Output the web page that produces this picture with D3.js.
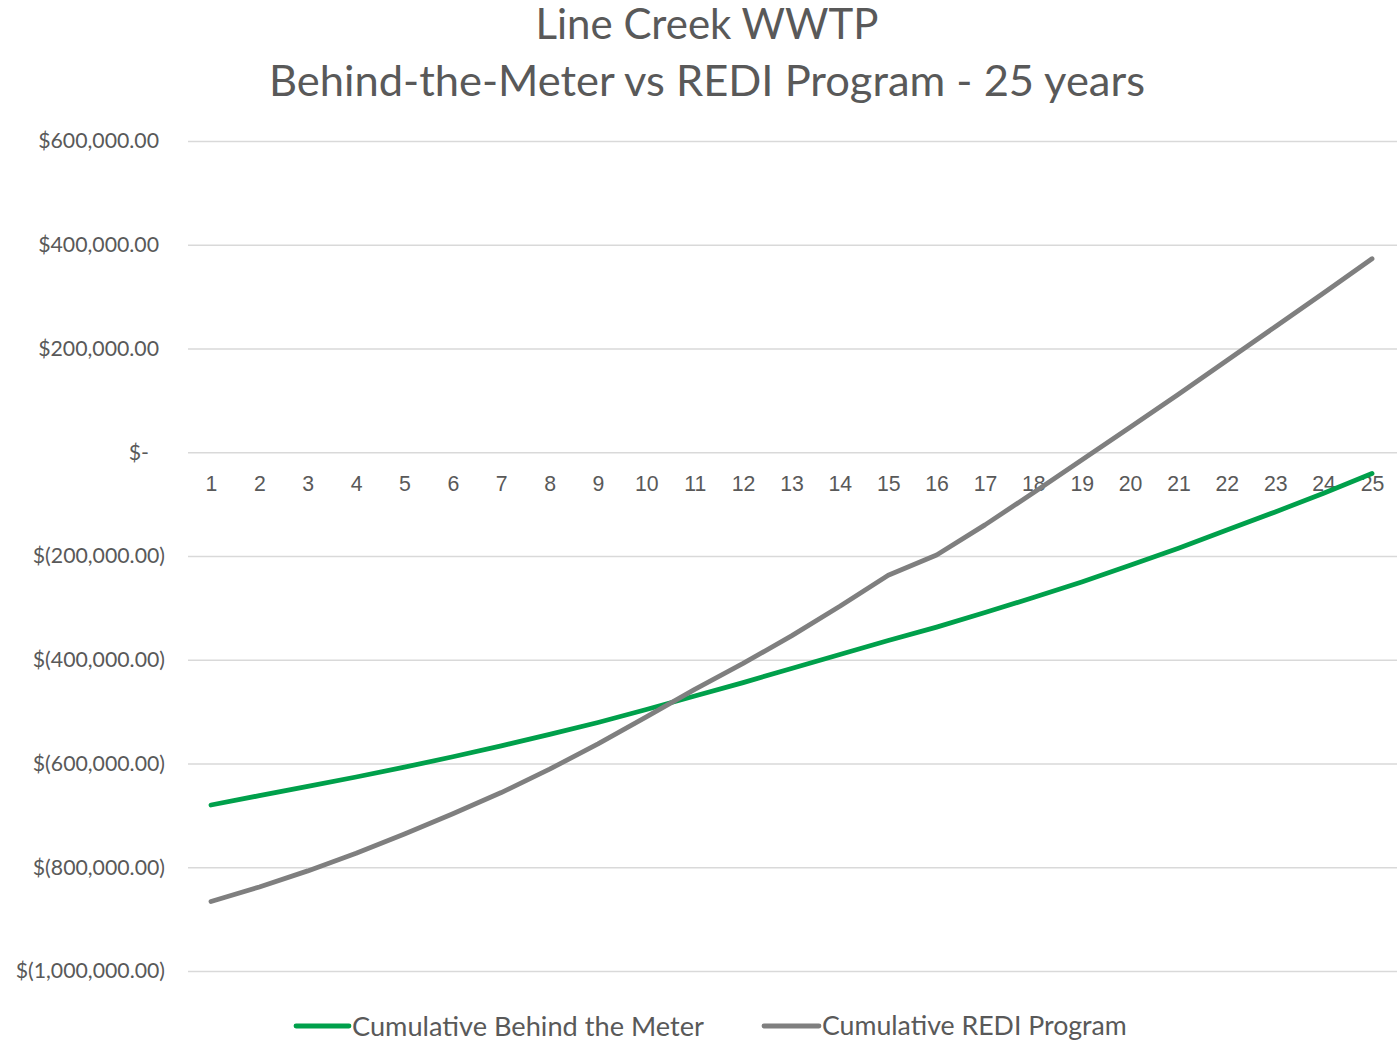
<!DOCTYPE html>
<html>
<head>
<meta charset="utf-8">
<script src="https://cdn.jsdelivr.net/npm/d3@7"></script>
<style>
  html, body { margin: 0; padding: 0; background: #fff; }
  svg { display: block; font-family: Lato, "Noto Sans", sans-serif; }
</style>
</head>
<body>
<svg id="chart" width="1397" height="1044"></svg>
<script>
// ---- Data ----
const years = [1,2,3,4,5,6,7,8,9,10,11,12,13,14,15,16,17,18,19,20,21,22,23,24,25];
const behindTheMeter = [-680000,-662000,-644000,-626000,-607000,-587000,-566000,-544000,-521000,-496000,
  -470000,-444000,-417000,-390000,-363000,-337000,-309000,-280000,-250000,-218000,
  -185000,-150000,-115000,-79000,-41000];
const rediProgram = [-866000,-838000,-807000,-773000,-736000,-697000,-656000,-611000,-562000,-510000,
  -457000,-407000,-354000,-297000,-237000,-198000,-140000,-78000,-15000,48000,
  112000,177000,242000,307000,373000];
const yTicks = [600000,400000,200000,0,-200000,-400000,-600000,-800000,-1000000];
const titleLines = ["Line Creek WWTP", "Behind-the-Meter vs REDI Program - 25 years"];
const seriesNames = ["Cumulative Behind the Meter", "Cumulative REDI Program"];
const seriesColors = ["#00a04b", "#7f7f7f"];

// ---- Layout ----
const svg = d3.select("#chart");
const textColor = "#595959";
const x = d3.scalePoint().domain(years).range([211, 1372]);
const y = d3.scaleLinear().domain([-1000000, 600000]).range([971, 141]);

function fitWidth(sel, target) {
  sel.each(function() {
    const fs = parseFloat(d3.select(this).attr("font-size"));
    const w = this.getComputedTextLength();
    d3.select(this).attr("font-size", (fs * target / w).toFixed(2));
  });
}

// Title
const t1 = svg.append("text").attr("x", 707).attr("y", 39).attr("text-anchor", "middle")
  .attr("fill", textColor).attr("font-size", 40).text(titleLines[0]);
fitWidth(t1, 343);
const t2 = svg.append("text").attr("x", 707).attr("y", 96).attr("text-anchor", "middle")
  .attr("fill", textColor).attr("font-size", 40).text(titleLines[1]);
fitWidth(t2, 876);

// Gridlines
svg.append("g").selectAll("line").data(yTicks).join("line")
  .attr("x1", 188).attr("x2", 1397)
  .attr("y1", d => y(d) + 0.5).attr("y2", d => y(d) + 0.5)
  .attr("stroke", "#d9d9d9").attr("stroke-width", 1.3);

// Y tick labels (accounting format)
const fmt = d3.format(",.2f");
function acct(v) {
  if (v === 0) return "$-";
  if (v < 0) return "$(" + fmt(-v) + ")";
  return "$" + fmt(v);
}
const probe = svg.append("text").attr("font-size", 20).text("$600,000.00");
const probeW = probe.node().getComputedTextLength();
probe.remove();
const tickFs = 20 * 121 / probeW;

svg.append("g").selectAll("text").data(yTicks).join("text")
  .attr("x", d => d === 0 ? 149 : (d > 0 ? 159 : 165))
  .attr("y", d => y(d))
  .attr("dy", "0.35em")
  .attr("text-anchor", "end")
  .attr("fill", textColor)
  .attr("font-size", tickFs)
  .text(acct);

// X tick labels along zero line
const xAxis = d3.axisBottom(x).tickSize(0).tickPadding(0);
const gx = svg.append("g").attr("transform", `translate(0,${y(0)})`).call(xAxis);
gx.select(".domain").remove();
gx.selectAll("text").attr("font-size", tickFs).attr("font-family", null)
  .attr("fill", textColor).attr("y", 39).attr("dy", 0);

// Lines
[behindTheMeter, rediProgram].forEach((s, i) => {
  svg.append("path").datum(s)
    .attr("d", d3.line().x((d, j) => x(years[j])).y(d => y(d)))
    .attr("fill", "none").attr("stroke", seriesColors[i])
    .attr("stroke-width", 4.8).attr("stroke-linecap", "round").attr("stroke-linejoin", "round");
});

// Legend
const legendItems = [
  {name: seriesNames[0], color: seriesColors[0], x0: 296, x1: 349, tx: 352, tw: 352},
  {name: seriesNames[1], color: seriesColors[1], x0: 764, x1: 819, tx: 822, tw: 305}
];
const lg = svg.append("g");
legendItems.forEach(it => {
  lg.append("line").attr("x1", it.x0).attr("x2", it.x1).attr("y1", 1026).attr("y2", 1026)
    .attr("stroke", it.color).attr("stroke-width", 4.8).attr("stroke-linecap", "round");
  const tt = lg.append("text").attr("x", it.tx).attr("y", 1026).attr("dy", "0.35em")
    .attr("fill", textColor).attr("font-size", 24).text(it.name);
  fitWidth(tt, it.tw);
});
</script>
</body>
</html>
